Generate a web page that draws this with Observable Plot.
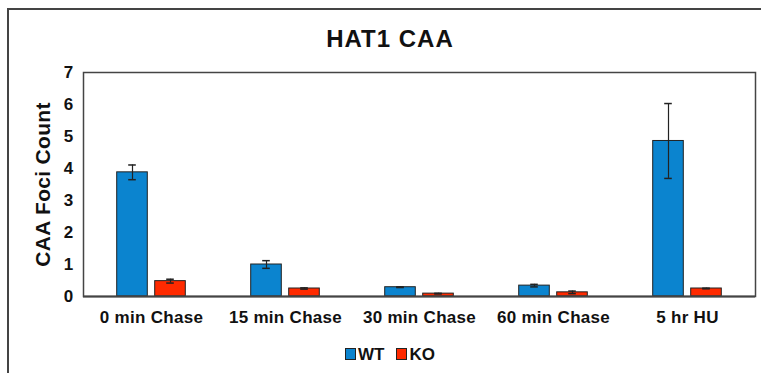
<!DOCTYPE html>
<html>
<head>
<meta charset="utf-8">
<script src="https://cdn.jsdelivr.net/npm/d3@7"></script>
<script src="https://cdn.jsdelivr.net/npm/@observablehq/plot@0.6"></script>
<style>
  html, body { margin: 0; padding: 0; background: #fff; }
  #wrap { position: relative; width: 761px; height: 373px; overflow: hidden; font-family: "Liberation Sans", Arial, sans-serif; }
  #border { position: absolute; left: 7px; top: 8px; width: 800px; height: 400px; border-left: 2px solid #444; border-top: 2px solid #444; box-sizing: border-box; }
  #title { position: absolute; left: 0; width: 780px; top: 25px; text-align: center; font-weight: bold; font-size: 24px; letter-spacing: 1px; color: #111; }
  #chart { position: absolute; left: 0; top: 0; }
  #legend { position: absolute; left: 0; width: 780px; top: 345px; text-align: center; font-weight: bold; font-size: 17px; color: #111; }
  .sw { display: inline-block; width: 9px; height: 10px; border: 1px solid #222; margin-right: 2px; vertical-align: 0px; }
  .item { margin: 0 6px; }
</style>
</head>
<body>
<div id="wrap">
  <div id="border"></div>
  <div id="title">HAT1 CAA</div>
  <div id="chart"></div>
  <div id="legend"></div>
</div>
<script>
const categories = ["0 min Chase", "15 min Chase", "30 min Chase", "60 min Chase", "5 hr HU"];
const seriesNames = ["WT", "KO"];
const wtValues = [3.88, 1.00, 0.29, 0.34, 4.86];
const wtErrors = [0.23, 0.12, 0.01, 0.04, 1.17];
const koValues = [0.48, 0.25, 0.09, 0.13, 0.25];
const koErrors = [0.06, 0.02, 0.01, 0.04, 0.01];
const yTicks = [0, 1, 2, 3, 4, 5, 6, 7];
const colors = { WT: "#0B84CF", KO: "#FF2A00" };

const rows = [];
categories.forEach((c, i) => {
  rows.push({ cat: c, series: "WT", value: wtValues[i], err: wtErrors[i] });
  rows.push({ cat: c, series: "KO", value: koValues[i], err: koErrors[i] });
});
const wt = rows.filter(d => d.series === "WT");
const ko = rows.filter(d => d.series === "KO");

const W = 761;
const bw = (W - 83 - 6) / categories.length;
const barInset = (bw - 31) / 2;
const capInset = (bw - 8) / 2;
const off = 19;

function seriesMarks(data, dx, color) {
  return [
    Plot.barY(data, { x: "cat", y: "value", fill: color, stroke: "#222", strokeWidth: 1, insetLeft: barInset, insetRight: barInset, dx }),
    Plot.ruleX(data, { x: "cat", y1: d => d.value - d.err, y2: d => d.value + d.err, stroke: "#222", strokeWidth: 1.2, dx }),
    Plot.tickY(data, { x: "cat", y: d => d.value + d.err, stroke: "#222", strokeWidth: 1.5, insetLeft: capInset, insetRight: capInset, dx }),
    Plot.tickY(data, { x: "cat", y: d => d.value - d.err, stroke: "#222", strokeWidth: 1.5, insetLeft: capInset, insetRight: capInset, dx })
  ];
}

const chart = Plot.plot({
  width: W,
  height: 373,
  marginLeft: 83,
  marginRight: 6,
  marginTop: 72,
  marginBottom: 77,
  style: { fontFamily: "'Liberation Sans', Arial, sans-serif", fontSize: "17px", fontWeight: "bold", color: "#111", background: "transparent", letterSpacing: "0.3px" },
  x: { domain: categories, padding: 0, tickSize: 0, tickPadding: 14, label: null },
  y: { domain: [0, 7], ticks: yTicks, tickSize: 0, tickPadding: 10, label: null, tickFormat: d3.format("d") },
  marks: [
    ...seriesMarks(wt, -off, colors.WT),
    ...seriesMarks(ko, off, colors.KO),
    Plot.frame({ stroke: "#444", strokeWidth: 1.5 }),
    Plot.ruleY([0], { stroke: "#444", strokeWidth: 2 }),
    Plot.text(["CAA Foci Count"], { frameAnchor: "left", textAnchor: "middle", rotate: -90, dx: -40, fontSize: 21, fontWeight: "bold", fill: "#111" })
  ]
});
document.getElementById("chart").appendChild(chart);

const legend = document.getElementById("legend");
seriesNames.forEach(s => {
  const span = document.createElement("span");
  span.className = "item";
  span.innerHTML = `<span class="sw" style="background:${colors[s]}"></span>${s}`;
  legend.appendChild(span);
});
</script>
</body>
</html>
